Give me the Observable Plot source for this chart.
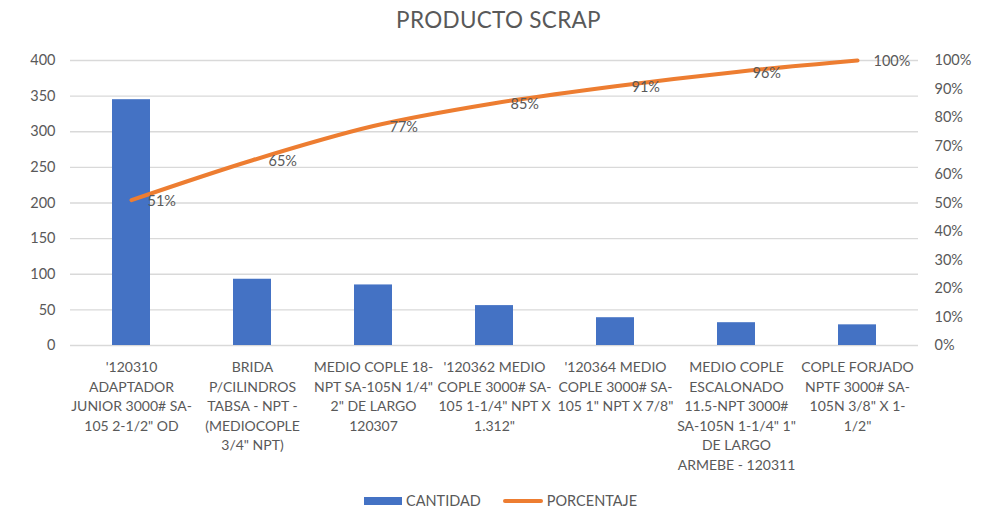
<!DOCTYPE html>
<html><head><meta charset="utf-8">
<script src="https://cdn.jsdelivr.net/npm/d3@7"></script>
<script src="https://cdn.jsdelivr.net/npm/@observablehq/plot@0.6"></script>
<style>
html,body{margin:0;padding:0;background:#fff}
body{width:997px;height:511px;overflow:hidden;font-family:Lato,"Open Sans",sans-serif;color:#595959;position:relative}
#title{height:40px;line-height:40px;text-align:center;font-size:22.5px;letter-spacing:0.3px}
#chart svg{display:block}
#legend{position:absolute;left:364px;top:492px;display:flex;align-items:center;font-size:14.5px;color:#595959}
.sw{display:inline-block;margin-right:4px}
</style></head><body>
<div id="title">PRODUCTO SCRAP</div>
<div id="chart"></div>
<div id="legend">
  <span class="sw" style="width:38px;height:8px;background:#4472C4"></span><span style="margin-right:22px">CANTIDAD</span>
  <span class="sw" style="width:40px;height:4px;border-radius:2px;background:#ED7D31"></span><span>PORCENTAJE</span>
</div>
<script>
const categories = [
  "'120310\nADAPTADOR\nJUNIOR 3000# SA-\n105 2-1/2\" OD",
  "BRIDA\nP/CILINDROS\nTABSA - NPT -\n(MEDIOCOPLE\n3/4\" NPT)",
  "MEDIO COPLE 18-\nNPT SA-105N 1/4\"\n2\" DE LARGO\n120307",
  "'120362 MEDIO\nCOPLE 3000# SA-\n105 1-1/4\" NPT X\n1.312\"",
  "'120364 MEDIO\nCOPLE 3000# SA-\n105 1\" NPT X 7/8\"",
  "MEDIO COPLE\nESCALONADO\n11.5-NPT 3000#\nSA-105N 1-1/4\" 1\"\nDE LARGO\nARMEBE - 120311",
  "COPLE FORJADO\nNPTF 3000# SA-\n105N 3/8\" X 1-\n1/2\""
];
const cantidad = [345, 93, 85, 56, 39, 32, 29];
const porcentaje = [51, 65, 77, 85, 91, 96, 100];
const leftTicks = [0, 50, 100, 150, 200, 250, 300, 350, 400];
const rightTicksPct = [0, 10, 20, 30, 40, 50, 60, 70, 80, 90, 100];

const data = categories.map((c, i) => ({cat: c, cantidad: cantidad[i], pct: porcentaje[i]}));
const pctToY = p => p * 4; // 100% -> 400 on the shared y scale

const chart = Plot.plot({
  width: 997,
  height: 448,
  marginTop: 20,
  marginBottom: 143,
  marginLeft: 70,
  marginRight: 79,
  style: {fontFamily: "Lato, 'Open Sans', sans-serif", fontSize: "14.5px", color: "#595959", background: "#fff"},
  x: {domain: categories, paddingInner: 0.69, paddingOuter: 0.345, align: 0.5},
  y: {domain: [0, 400]},
  marks: [
    Plot.gridY(leftTicks, {stroke: "#d9d9d9", strokeOpacity: 1, strokeWidth: 1.3}),
    Plot.axisY(leftTicks, {anchor: "left", tickSize: 0, tickPadding: 15, label: null, fontSize: 14.5}),
    Plot.axisY(rightTicksPct.map(pctToY), {anchor: "right", tickSize: 0, tickPadding: 16, label: null, fontSize: 14.5, tickFormat: d => (d / 4) + "%"}),
    Plot.axisX({anchor: "bottom", tickSize: 0, tickPadding: 13, label: null, fontSize: 14, lineHeight: 1.39, tickFormat: d => d}),
    Plot.barY(data, {x: "cat", y: "cantidad", fill: "#4472C4"}),
    Plot.lineY(data, {x: "cat", y: d => pctToY(d.pct), stroke: "#ED7D31", strokeWidth: 4, curve: "monotone-x", strokeLinecap: "round", strokeLinejoin: "round"}),
    Plot.text(data, {x: "cat", y: d => pctToY(d.pct), text: d => d.pct + "%", textAnchor: "start", dx: 16, dy: 1, fill: "#595959", fontSize: 14.5})
  ]
});
document.getElementById("chart").appendChild(chart);
</script>
</body></html>
